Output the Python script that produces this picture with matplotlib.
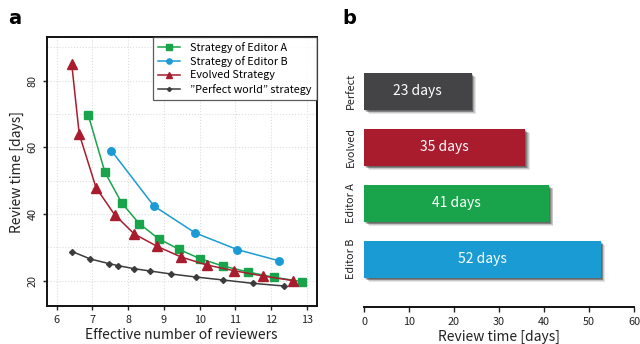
import matplotlib
matplotlib.use("Agg")
import matplotlib.pyplot as plt
from matplotlib.patches import Rectangle

plt.rcParams['font.family'] = ['Noto Sans CJK JP', 'DejaVu Sans']

# ---- data panel a ----
editor_a_x = [6.88, 7.35, 7.82, 8.31, 8.85, 9.42, 10.01, 10.65, 11.36, 12.09, 12.88]
editor_a_y = [69.8, 52.5, 43.3, 37.1, 32.6, 29.4, 26.6, 24.4, 22.6, 21.0, 19.7]
editor_b_x = [7.53, 8.72, 9.88, 11.06, 12.21]
editor_b_y = [59.0, 42.4, 34.3, 29.3, 26.0]
evolved_x = [6.42, 6.63, 7.10, 7.62, 8.17, 8.81, 9.48, 10.20, 10.96, 11.77, 12.62]
evolved_y = [85.0, 64.0, 47.9, 39.8, 34.0, 30.3, 27.1, 24.7, 23.0, 21.4, 20.0]
perfect_x = [6.44, 6.94, 7.47, 7.72, 8.16, 8.61, 9.20, 9.89, 10.66, 11.49, 12.36]
perfect_y = [28.7, 26.5, 25.1, 24.5, 23.6, 22.9, 22.0, 21.1, 20.2, 19.2, 18.4]
legend_labels = ["Strategy of Editor A", "Strategy of Editor B",
                 "Evolved Strategy", "\u201dPerfect world\u201d strategy"]

# ---- data panel b ----
bar_categories = ["Editor B", "Editor A", "Evolved", "Perfect"]
bar_values = [52.6, 41.1, 35.8, 23.9]
bar_texts = ["52 days", "41 days", "35 days", "23 days"]

GREEN = "#19a44c"
BLUE = "#1a9bd3"
RED = "#a81c2e"
DARK = "#3c3c3e"
bar_colors = [BLUE, GREEN, RED, "#444446"]

fig = plt.figure(figsize=(6.4, 3.44), dpi=100)

# ---------------- panel a ----------------
ax = fig.add_axes([0.073, 0.1105, 0.4219, 0.7811])
ax.plot(editor_a_x, editor_a_y, color=GREEN, marker='s', ms=5.2, lw=1.1, label=legend_labels[0])
ax.plot(editor_b_x, editor_b_y, color=BLUE, marker='o', ms=5.4, lw=1.1, label=legend_labels[1])
ax.plot(evolved_x, evolved_y, color=RED, marker='^', ms=6.5, lw=1.1, label=legend_labels[2])
ax.plot(perfect_x, perfect_y, color=DARK, marker='D', ms=3.0, lw=1.1, label=legend_labels[3])
ax.set_xlim(5.72, 13.28)
ax.set_ylim(12.4, 93.0)
ax.set_xticks(range(6, 14))
ax.set_yticks([20, 40, 60, 80])
ax.set_yticks(range(20, 100, 10), minor=True)
ax.tick_params(axis='y', which='minor', length=0)
ax.grid(True, which='both', color='#dcdcdc', linestyle=':', linewidth=0.8)
ax.set_axisbelow(True)
for s in ax.spines.values():
    s.set_linewidth(1.4)
    s.set_color('#111111')
ax.tick_params(axis='both', which='major', labelsize=7.8, length=3, width=1.0, colors='#222222')
ax.tick_params(axis='y', labelrotation=90)
for lab in ax.get_yticklabels():
    lab.set_va('center')
ax.set_xlabel("Effective number of reviewers", fontsize=10, color='#222222', labelpad=2)
ax.set_ylabel("Review time [days]", fontsize=10, color='#222222', labelpad=3)
leg = ax.legend(loc='upper right', fontsize=7.8, frameon=True, fancybox=False,
                borderaxespad=0, handlelength=2.0, handletextpad=1.0,
                labelspacing=0.3, borderpad=0.45, markerscale=0.7)
leg.get_frame().set_edgecolor('#333333')
leg.get_frame().set_linewidth(0.9)

fig.text(0.012, 0.975, "a", fontsize=14, fontweight='bold', va='top', ha='left',
         family='DejaVu Sans')

# ---------------- panel b ----------------
bx = fig.add_axes([0.56875, 0.1067, 0.4219, 0.7849])
ypos = list(range(len(bar_categories)))
h = 0.66
# drop shadows
for dx, dy, a in [(1.0, -0.08, 0.10), (0.8, -0.065, 0.13), (0.6, -0.05, 0.16),
                  (0.4, -0.035, 0.2), (0.25, -0.02, 0.22)]:
    for y, v in zip(ypos, bar_values):
        bx.add_patch(Rectangle((dx, y - h / 2 + dy), v, h, facecolor='#000000',
                               alpha=a, edgecolor='none', zorder=1))
bx.barh(ypos, bar_values, height=h, color=bar_colors, zorder=3)
for y, v, t in zip(ypos, bar_values, bar_texts):
    bx.text(v / 2, y, t, color='white', fontsize=10, ha='center', va='center', zorder=4)
bx.set_xlim(0, 60)
bx.set_ylim(-0.859, 3.963)
bx.set_xticks(range(0, 61, 10))
bx.set_yticks(ypos)
bx.set_yticklabels(bar_categories, rotation=90, va='center', fontsize=7.8, color='#222222')
bx.tick_params(axis='y', length=0, pad=6)
bx.tick_params(axis='x', labelsize=7.8, length=3.5, width=1.0, colors='#222222')
for k in ['left', 'right', 'top']:
    bx.spines[k].set_visible(False)
bx.spines['bottom'].set_linewidth(1.4)
bx.spines['bottom'].set_color('#111111')
bx.set_xlabel("Review time [days]", fontsize=10, color='#222222', labelpad=2)

fig.text(0.535, 0.975, "b", fontsize=14, fontweight='bold', va='top', ha='left',
         family='DejaVu Sans')

fig.savefig("out.png", dpi=100)
